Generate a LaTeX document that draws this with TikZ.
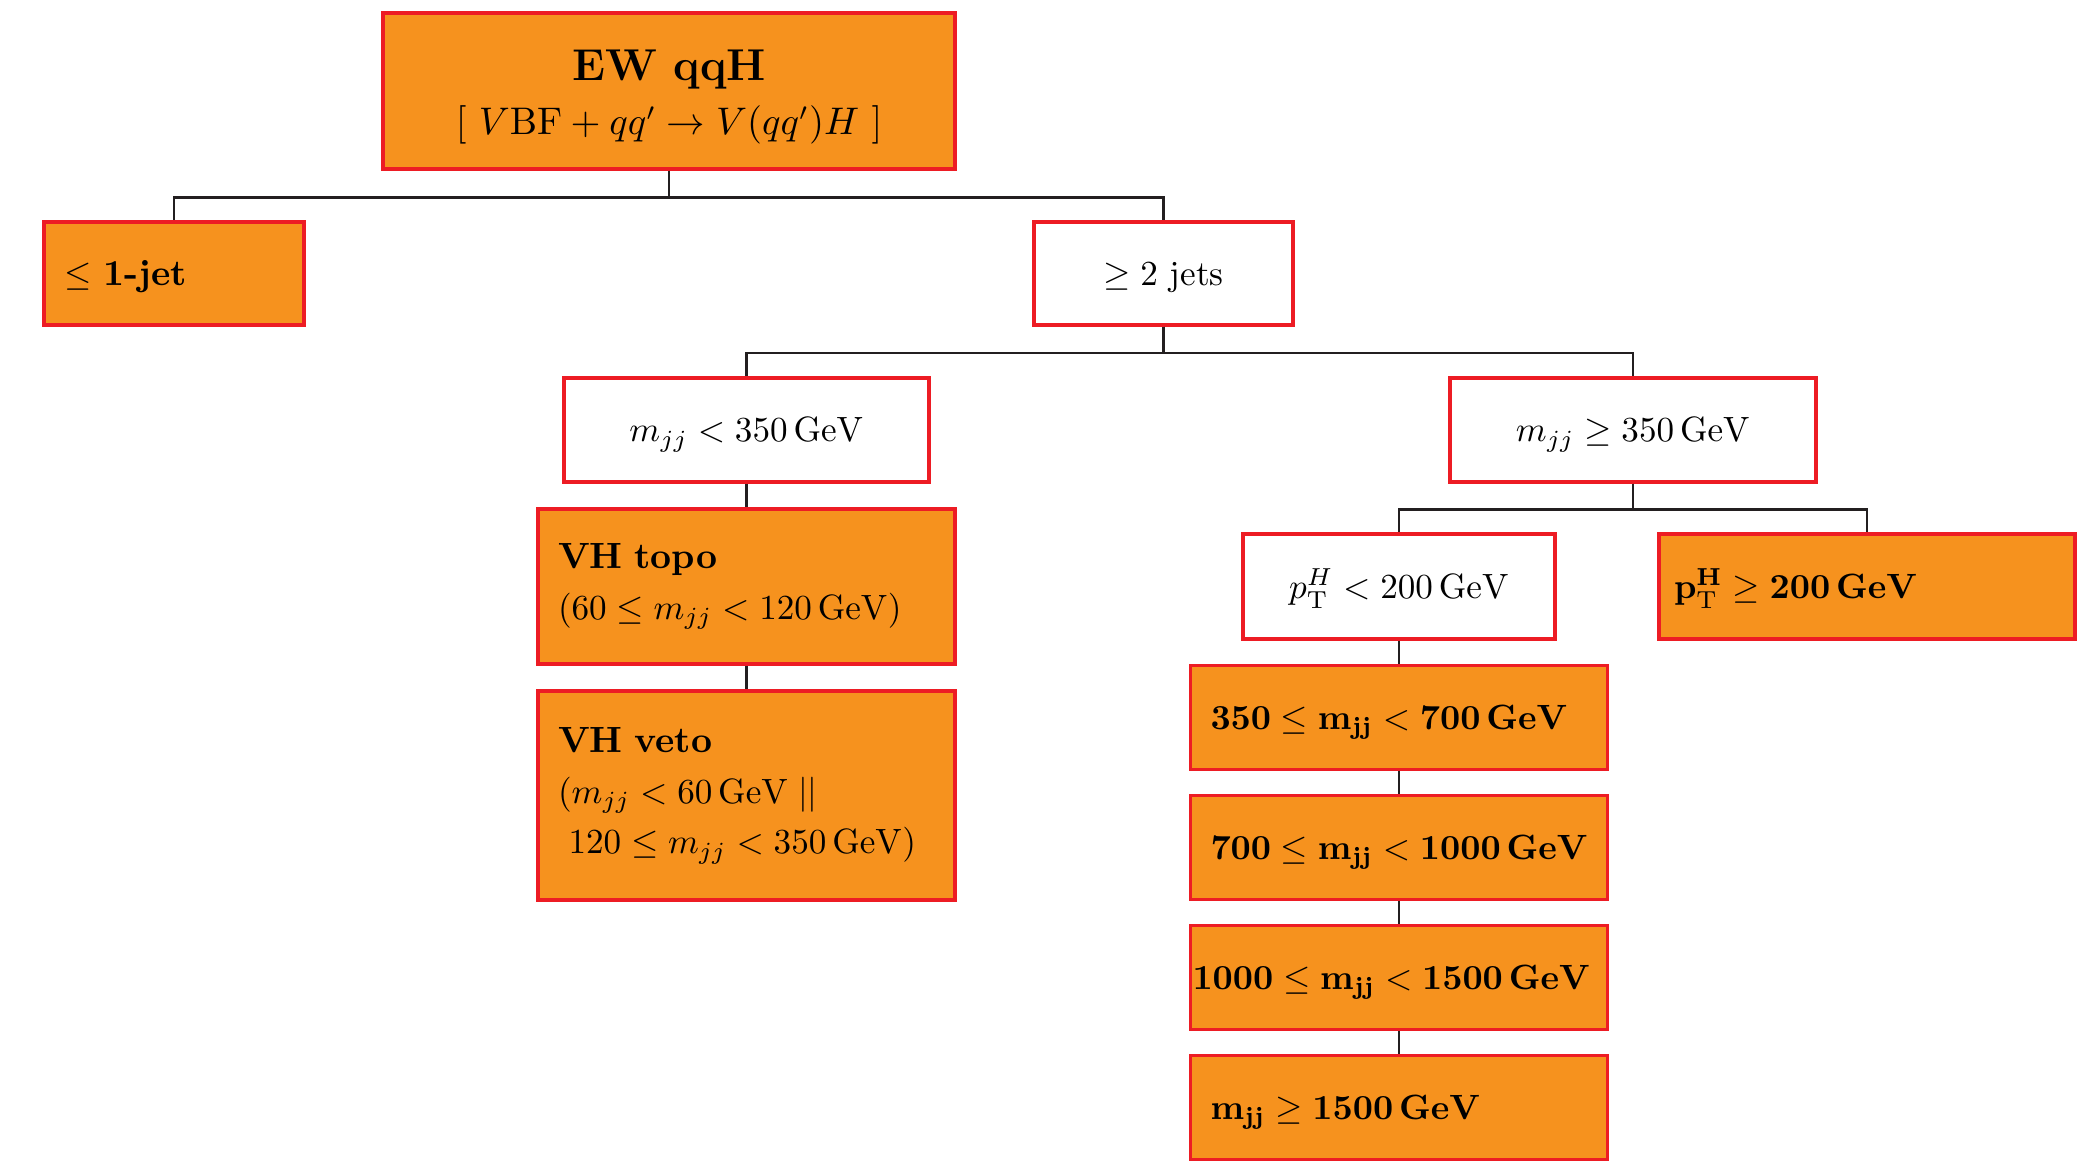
\documentclass[tikz,border=0pt]{standalone}
\usepackage{xcolor}
\usepackage{tikz}
\usetikzlibrary{positioning}
\usepackage{amsmath}

\definecolor{catorange}{RGB}{246,146,30}
\definecolor{catred}{RGB}{237,28,36}
\definecolor{catline}{RGB}{35,31,32}

\begin{document}
\begin{tikzpicture}[
			catline/.style={draw=catline, line width=0.7pt},
			cut/.style={draw=catred, line width=0.9pt, fill=white, inner sep=0pt, text height=9pt, text depth=2.2pt},
			bin/.style={draw=catred, line width=0.9pt, fill=catorange, align=left, inner xsep=0.2cm, inner ysep=0pt},
			oneline/.style={text height=9pt, text depth=2.2pt, font=\fontsize{10.4pt}{12.5pt}\selectfont},
			node distance=0.23cm]

			\useasboundingbox (0,0) rectangle (21,-11.66);

			\node[draw=catred, line width=0.9pt, fill=catorange, align=center, inner sep=0pt, minimum width=5.72cm, minimum height=1.56cm] (root) at (6.69,-0.91) {\rule{0pt}{12pt}{\fontsize{12.7pt}{15pt}\selectfont\textbf{EW qqH}}\\[3.3pt] {\fontsize{10.6pt}{13pt}\selectfont $[\ V\mathrm{BF}+qq'\rightarrow V(qq')H\ ]$}};

			\node[bin, oneline, text width=2.2cm, minimum height=1.03cm] (onejet) at (1.74,-2.735) {$\leq$ \textbf{1-jet}};
			\node[cut, minimum width=2.59cm, minimum height=1.03cm] (twojet) at (11.635,-2.735) {$\geq 2$ jets};

			\node[cut, minimum width=3.65cm, minimum height=1.04cm] (mjjlow) at (7.465,-4.30) {$m_{jj} < 350\,\mathrm{GeV}$};
			\node[cut, minimum width=3.66cm, minimum height=1.04cm] (mjjhigh) at (16.33,-4.30) {$m_{jj} \geq 350\,\mathrm{GeV}$};

			\node[bin, text width=3.77cm, minimum height=1.55cm] (vhtopo) at (7.465,-5.865) {{\fontsize{10.4pt}{12.5pt}\selectfont\textbf{VH topo}}\\[2.5pt] $(60 \leq m_{jj} < 120\,\mathrm{GeV})$};
			\node[bin, text width=3.77cm, minimum height=2.09cm] (vhveto) at (7.465,-7.955) {{\fontsize{10.4pt}{12.5pt}\selectfont\textbf{VH veto}}\\[2.5pt] $(m_{jj} < 60\,\mathrm{GeV}\;||$\\[2.5pt] \hspace*{0.3em}$120 \leq m_{jj} < 350\,\mathrm{GeV})$};

			\node[cut, minimum width=3.12cm, minimum height=1.05cm] (ptlow) at (13.99,-5.865) {$p_{\mathrm{T}}^{H} < 200\,\mathrm{GeV}$};
			\node[bin, oneline, text width=3.86cm, inner xsep=0.15cm, minimum height=1.05cm] (pthigh) at (18.67,-5.865) {$\mathbf{p_{\mathrm{T}}^{H} \geq 200\,GeV}$};

			\node[bin, oneline, text width=3.77cm, minimum height=1.04cm, below=of ptlow] (mjja) {$\mathbf{350 \leq m_{jj} < 700\,GeV}$};
			\node[bin, oneline, text width=3.77cm, minimum height=1.04cm, below=of mjja] (mjjb) {$\mathbf{700 \leq m_{jj} < 1000\,GeV}$};
			\node[bin, oneline, text width=4.13cm, inner xsep=0.02cm, minimum height=1.04cm, below=of mjjb] (mjjc) {$\mathbf{1000 \leq m_{jj} < 1500\,GeV}$};
			\node[bin, oneline, text width=3.77cm, minimum height=1.04cm, below=of mjjc] (mjjd) {$\mathbf{m_{jj} \geq 1500\,GeV}$};

			\draw[catline] (root.south) -- ++(0,-0.27) -| (onejet.north);
			\draw[catline] (root.south) -- ++(0,-0.27) -| (twojet.north);
			\draw[catline] (twojet.south) -- ++(0,-0.265) -| (mjjlow.north);
			\draw[catline] (twojet.south) -- ++(0,-0.265) -| (mjjhigh.north);
			\draw[catline] (mjjhigh.south) -- ++(0,-0.26) -| (ptlow.north);
			\draw[catline] (mjjhigh.south) -- ++(0,-0.26) -| (pthigh.north);
			\foreach \a/\b in {mjjlow/vhtopo, vhtopo/vhveto, ptlow/mjja, mjja/mjjb, mjjb/mjjc, mjjc/mjjd}
				\draw[catline] (\a) -- (\b);
		\end{tikzpicture}
\end{document}
